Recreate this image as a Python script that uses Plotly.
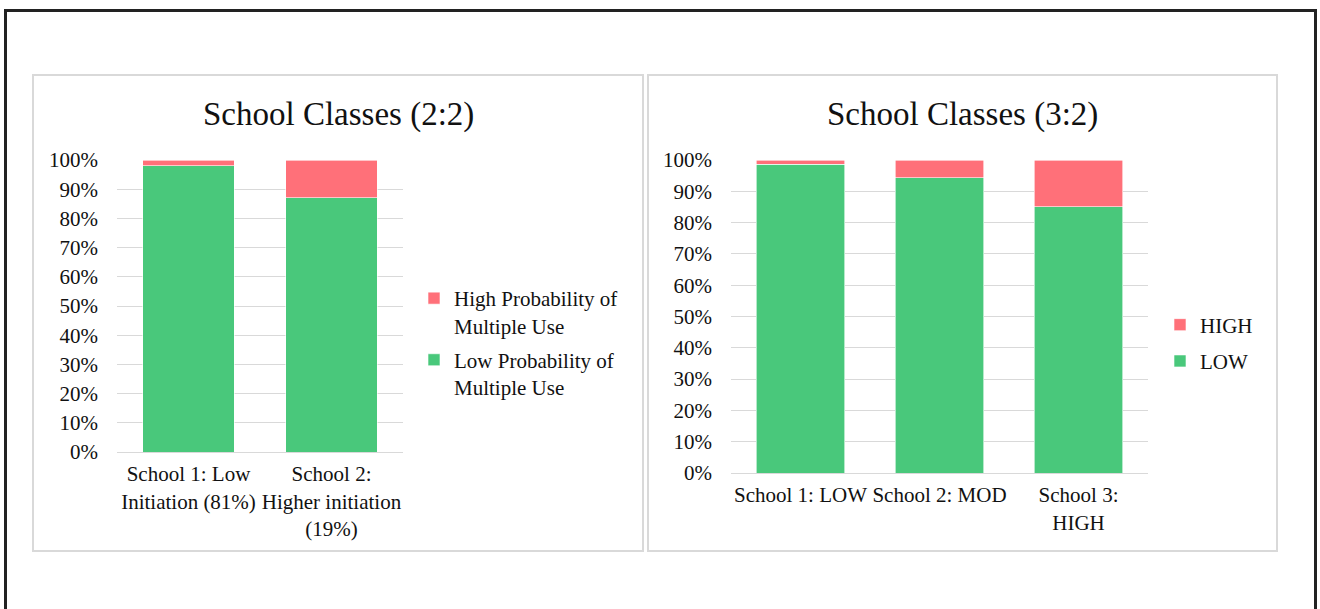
import plotly.graph_objects as go

W, H = 1320, 609

# Two-class model: share of each school class by probability of multiple use (%)
classes_2 = ["School 1: Low<br>Initiation (81%)", "School 2:<br>Higher initiation<br>(19%)"]
low_2 = [98, 87]
high_2 = [2, 13]

# Three-class model
classes_3 = ["School 1: LOW", "School 2: MOD", "School 3:<br>HIGH"]
low_3 = [98.6, 94.4, 85]
high_3 = [1.4, 5.6, 15]

GREEN = "#49C87B"
RED = "#FF7079"
GRID = "#D9D9D9"
FONT = "Liberation Serif"
TXT = "#111111"


def px_x(x):
    return x / W


def px_y(y):
    return 1 - y / H


fig = go.Figure()

bar_line = dict(color="white", width=0.6)

# Low is stacked first (bottom); legendrank puts High on top of each legend
fig.add_trace(go.Bar(x=classes_2, y=low_2, name="Low Probability of<br>Multiple Use",
                     marker=dict(color=GREEN, line=bar_line), xaxis="x", yaxis="y",
                     legend="legend", legendgroup="low2", legendrank=2))
fig.add_trace(go.Bar(x=classes_2, y=high_2, name="High Probability of<br>Multiple Use",
                     marker=dict(color=RED, line=bar_line), xaxis="x", yaxis="y",
                     legend="legend", legendgroup="high2", legendrank=1))
fig.add_trace(go.Bar(x=classes_3, y=low_3, name="LOW",
                     marker=dict(color=GREEN, line=bar_line), xaxis="x2", yaxis="y2",
                     legend="legend2", legendgroup="low3", legendrank=2))
fig.add_trace(go.Bar(x=classes_3, y=high_3, name="HIGH",
                     marker=dict(color=RED, line=bar_line), xaxis="x2", yaxis="y2",
                     legend="legend2", legendgroup="high3", legendrank=1))

tick_font = dict(family=FONT, size=21, color=TXT)

xcommon = dict(showgrid=False, showline=True, linecolor=GRID, linewidth=1,
               tickfont=tick_font, ticks="", ticklabelstandoff=3,
               automargin=False, fixedrange=True)
ycommon = dict(range=[0, 100], dtick=10, ticksuffix="%", showgrid=True, gridcolor=GRID,
               gridwidth=1, zeroline=False, showline=False, tickfont=tick_font,
               ticklabelstandoff=18, automargin=False, fixedrange=True)

legend_common = dict(xanchor="left", yanchor="middle", traceorder="grouped",
                     valign="top", font=dict(family=FONT, size=21, color=TXT),
                     bgcolor="rgba(0,0,0,0)", itemclick=False, itemdoubleclick=False)

fig.update_layout(
    width=W, height=H, autosize=False,
    margin=dict(l=0, r=0, t=0, b=0, autoexpand=False),
    paper_bgcolor="white", plot_bgcolor="white",
    barmode="stack", bargap=0.36,
    font=dict(family=FONT, color=TXT),
    xaxis=dict(domain=[px_x(117), px_x(403)], anchor="y", **xcommon),
    yaxis=dict(domain=[px_y(452), px_y(160)], anchor="x", **ycommon),
    xaxis2=dict(domain=[px_x(731), px_x(1148)], anchor="y2", **xcommon),
    yaxis2=dict(domain=[px_y(473), px_y(160)], anchor="x2", **ycommon),
    legend=dict(x=px_x(414), y=px_y(343), tracegroupgap=4, **legend_common),
    legend2=dict(x=px_x(1160), y=px_y(343), tracegroupgap=6, **legend_common),
    showlegend=True,
)

# Chart titles
for text, cx in [("School Classes (2:2)", 338), ("School Classes (3:2)", 962)]:
    fig.add_annotation(text=text, x=px_x(cx), y=px_y(114), xref="paper", yref="paper",
                       xanchor="center", yanchor="middle", showarrow=False,
                       font=dict(family=FONT, size=33, color=TXT))

# Panel borders and the outer frame
shapes = [
    dict(type="rect", xref="paper", yref="paper", x0=px_x(33), x1=px_x(643),
         y0=px_y(551), y1=px_y(75), line=dict(color=GRID, width=2), layer="below"),
    dict(type="rect", xref="paper", yref="paper", x0=px_x(648), x1=px_x(1277),
         y0=px_y(551), y1=px_y(75), line=dict(color=GRID, width=2), layer="below"),
    dict(type="rect", xref="paper", yref="paper", x0=px_x(5.5), x1=px_x(1315.5),
         y0=px_y(650), y1=px_y(10.5), line=dict(color="#222222", width=3), layer="above"),
]
fig.update_layout(shapes=shapes)

fig.write_html("out.html", config={"displayModeBar": False})
